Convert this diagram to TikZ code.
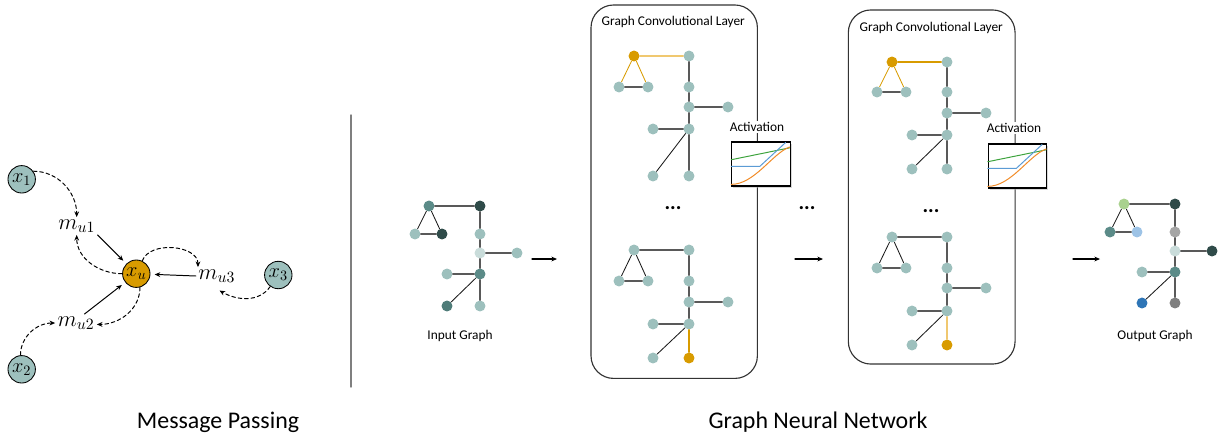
\RequirePackage{fix-cm}
\documentclass[tikz,border=0pt]{standalone}
\usepackage{fontspec}
\setmainfont{Carlito}
\usepackage{tikz}
\usetikzlibrary{arrows.meta,shadows}
\usepackage{xcolor}
\definecolor{tealL}{HTML}{9DC0BD}
\definecolor{tealM}{HTML}{5B8B88}
\definecolor{tealD}{HTML}{2F4B49}
\definecolor{tealX}{HTML}{C9DCDA}
\definecolor{tealJ}{HTML}{4F7C79}
\definecolor{mpgold}{HTML}{D89B00}
\definecolor{goldL}{HTML}{F0C870}
\definecolor{greenL}{HTML}{A9D18E}
\definecolor{blueL}{HTML}{9DC3E6}
\definecolor{blueD}{HTML}{2E75B6}
\definecolor{grayL}{HTML}{A6A6A6}
\definecolor{grayD}{HTML}{7F7F7F}
\definecolor{actgreen}{HTML}{3DA33D}
\definecolor{actblue}{HTML}{5B9BD5}
\definecolor{actorange}{HTML}{F28C28}

\begin{document}
\begin{tikzpicture}[x=0.025cm,y=-0.025cm,>={Stealth[length=4pt,width=3.4pt]},line cap=round,
  gdot/.style={circle,fill=#1,minimum size=7.8pt,inner sep=0pt},
  gdot/.default=tealL,
  glink/.style={black!65,line width=0.9pt},
  glinkthin/.style={black!90,line width=0.6pt},
  msg/.style={circle,draw=black,line width=0.6pt,fill=#1,minimum size=19.5pt,inner sep=0pt,font=\fontsize{14.5}{16}\selectfont},
  mlbl/.style={inner sep=1.5pt,font=\fontsize{16}{18}\selectfont},
  mline/.style={->,line width=0.7pt,shorten >=3pt},
  mpass/.style={->,line width=0.7pt,dash pattern=on 2.6pt off 2pt},
  flow/.style={->,line width=0.8pt},
  lbl/.style={inner sep=1pt,font=\fontsize{9.5}{11}\selectfont},
  bigtitle/.style={font=\fontsize{17}{20}\selectfont},
  layerbox/.style={draw=black!80,line width=0.8pt,rounded corners=16pt,inner sep=0pt},
  actbox/.style={draw=black,line width=0.8pt,fill=white,minimum width=1.46cm,minimum height=1.1cm,inner sep=0pt,
    drop shadow={shadow xshift=1.2pt,shadow yshift=-1.2pt,fill=black!30}},
  gdots/.style={font=\fontsize{15}{15}\selectfont\bfseries,inner sep=1pt}]
\useasboundingbox (0,0) rectangle (1223,435);

% message passing
\node[msg=tealL] (x1) at (21.7,179.3) {$x_1$};
\node[msg=tealL] (x2) at (21.7,369.3) {$x_2$};
\node[msg=tealL] (x3) at (278.3,275) {$x_3$};
\node[msg=mpgold] (xu) at (136.3,273.7) {$x_u$};
\node[mlbl] (mu1) at (76.7,226) {$m_{u1}$};
\node[mlbl] (mu2) at (76,323) {$m_{u2}$};
\node[mlbl] (mu3) at (216.7,276) {$m_{u3}$};
\draw[mpass] (x1.35) to[out=0,in=90] (mu1.north);
\draw[mpass] (x2.95) to[out=90,in=180] (mu2.west);
\draw[mpass] (x3.235) to[out=235,in=-30] ([xshift=2pt,yshift=-4pt]mu3.south);
\draw[mline] (mu1.south east) -- (xu);
\draw[mline] ([xshift=6pt]mu2.north) -- (xu);
\draw[mline] (mu3.west) -- (xu);
\draw[mpass] (xu.west) to[out=180,in=-90] (mu1.south);
\draw[mpass] (xu.-75) to[out=-90,in=0] ([yshift=-1pt]mu2.east);
\draw[mpass] (xu.65) to[out=70,in=90] ([xshift=1.5pt]mu3.north west);
\node[bigtitle] (mp-title) at (218,422) {Message Passing};

\draw[grayD,line width=1pt] (351,115) -- (351,387);

% input graph
\foreach \n/\x/\y/\c in {a/429/206/tealM, b/480/206/tealD, c/415/234/tealL, d/442/234/tealD,
    e/480/234/tealL, f/480/253/tealX, g/517/253/tealL, h/480/274/tealM, i/447/274/tealL,
    j/447/306/tealJ, k/480/306/tealL}
  \node[gdot=\c] (in-\n) at (\x,\y) {};
\foreach \a/\b in {a/b,c/d,b/e,e/f,f/g,f/h,h/i,h/k}
  \draw[glink] (in-\a) -- (in-\b);
\foreach \a/\b in {a/c,a/d,h/j}
  \draw[glinkthin] (in-\a) -- (in-\b);
\node[lbl] (in-lbl) at (460,336) {Input Graph};

% layers
\node[layerbox,minimum width=4.158cm,minimum height=9.333cm] (layer1) at (674.2,191.7) {};
\node[layerbox,minimum width=4.167cm,minimum height=8.85cm] (layer2) at (931.7,187) {};
\node[lbl,anchor=west] (layer1-lbl) at (600,22) {Graph Convolutional Layer};
\node[lbl,anchor=west] (layer2-lbl) at (858,28) {Graph Convolutional Layer};

\foreach \n/\x/\y/\c in {a/634/56/mpgold, b/689/56/tealL, c/619/87/tealL, d/648/87/tealL,
    e/689/87/tealL, f/689/107/tealL, g/728/107/tealL, h/689/129/tealL, i/653/129/tealL,
    j/653/176/tealL, k/689/176/tealL}
  \node[gdot=\c] (l1t-\n) at (\x,\y) {};
\foreach \n/\x/\y/\c in {a/634/250/tealL, b/689/250/tealL, c/619/281/tealL, d/648/281/tealL,
    e/689/281/tealL, f/689/302/tealL, g/728/302/tealL, h/689/324/tealL, i/653/324/tealL,
    j/653/358/tealL, k/689/358/mpgold}
  \node[gdot=\c] (l1b-\n) at (\x,\y) {};
\foreach \n/\x/\y/\c in {a/892/62/mpgold, b/947/62/tealL, c/877/92/tealL, d/906/92/tealL,
    e/947/92/tealL, f/947/113/tealL, g/986/113/tealL, h/947/135/tealL, i/912/135/tealL,
    j/912/169/tealL, k/947/169/tealL}
  \node[gdot=\c] (l2t-\n) at (\x,\y) {};
\foreach \n/\x/\y/\c in {a/892/237/tealL, b/947/237/tealL, c/877/268/tealL, d/906/268/tealL,
    e/947/268/tealL, f/947/288/tealL, g/986/288/tealL, h/947/311/tealL, i/912/311/tealL,
    j/912/345/tealL, k/947/345/mpgold}
  \node[gdot=\c] (l2b-\n) at (\x,\y) {};

\foreach \g in {l1t,l1b,l2t,l2b}{
  \foreach \a/\b in {c/d,b/e,e/f,f/g,f/h,h/i}
    \draw[glink] (\g-\a) -- (\g-\b);
  \draw[glinkthin] (\g-h) -- (\g-j);
}
\foreach \g/\ab/\ac/\hk in {l1t/goldL/mpgold/black!65, l1b/black!65/black!90/mpgold,
    l2t/mpgold/mpgold/black!65, l2b/black!65/black!90/goldL}{
  \draw[glink,draw=\ab] (\g-a) -- (\g-b);
  \draw[glinkthin,draw=\ac] (\g-a) -- (\g-c) (\g-a) -- (\g-d);
  \draw[glink,draw=\hk] (\g-h) -- (\g-k);
}
\node[gdots] (layer1-dots) at (673,208) {...};
\node[gdots] (layer2-dots) at (931,211) {...};
\node[gdots] (mid-dots) at (807,208) {...};

% activation
\node[lbl,fill=white] (act1-lbl) at (757,127) {Activation};
\node[actbox] (act1) at (761,164) {};
\node[lbl,fill=white] (act2-lbl) at (1014,128) {Activation};
\node[actbox] (act2) at (1017.5,166) {};
\foreach \b in {act1,act2}{
  \begin{scope}[shift={(\b.south west)},x=1.46cm,y=1.1cm,line width=0.7pt]
    \draw[actgreen] (0,0.61) -- (1,0.88);
    \draw[actblue] (0,0.46) -- (0.49,0.46) -- (0.93,1);
    \draw[actorange] (0,0.05) .. controls (0.4,0.05) and (0.7,0.75) .. (1,0.9);
  \end{scope}
}

% flow arrows
\coordinate (fl1-s) at (532,259); \coordinate (fl1-e) at (557,259);
\coordinate (fl2-s) at (795,259); \coordinate (fl2-e) at (823,259);
\coordinate (fl3-s) at (1073,259); \coordinate (fl3-e) at (1100,259);
\foreach \i in {1,2,3}
  \draw[flow] (fl\i-s) -- (fl\i-e);

% output graph
\foreach \n/\x/\y/\c in {a/1124/204/greenL, b/1175/204/tealD, c/1110/232/tealM, d/1137/232/blueL,
    e/1175/232/grayL, f/1175/251/tealX, g/1212/251/tealD, h/1175/272/tealM, i/1142/272/tealL,
    j/1142/303/blueD, k/1175/303/grayD}
  \node[gdot=\c] (out-\n) at (\x,\y) {};
\foreach \a/\b in {a/b,c/d,b/e,e/f,f/g,f/h,h/i,h/k}
  \draw[glink] (out-\a) -- (out-\b);
\foreach \a/\b in {a/c,a/d,h/j}
  \draw[glinkthin] (out-\a) -- (out-\b);
\node[lbl] (out-lbl) at (1155,336) {Output Graph};

\node[bigtitle] (gnn-title) at (818,422) {Graph Neural Network};
\end{tikzpicture}
\end{document}
